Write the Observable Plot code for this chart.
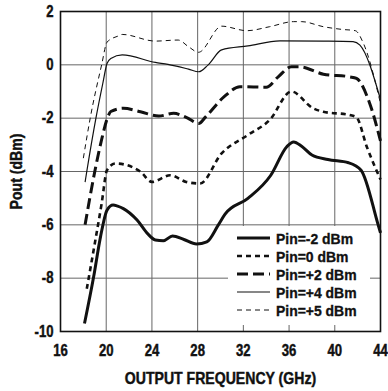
<!DOCTYPE html>
<html>
<head>
<meta charset="utf-8">
<script src="https://cdn.jsdelivr.net/npm/d3@7"></script>
<script src="https://cdn.jsdelivr.net/npm/@observablehq/plot@0.6"></script>
<style>
  html, body { margin: 0; padding: 0; background: #fff; }
  #wrap { position: relative; width: 388px; height: 391px; overflow: hidden; }
  #legend { position: absolute; left: 228px; top: 226px; }
</style>
</head>
<body>
<div id="wrap"></div>
<script>
// ---- data ----
const seriesNames = ["Pin=-2 dBm", "Pin=0 dBm", "Pin=+2 dBm", "Pin=+4 dBm", "Pin=+5 dBm"];
const xTicks = [16, 20, 24, 28, 32, 36, 40, 44];
const yTicks = [-10, -8, -6, -4, -2, 0, 2];

const freqM2 = [18.1, 18.9, 19.5, 20.07, 20.6, 21.0, 21.5, 22.7, 23.6, 24.3, 25.0, 25.8, 26.8, 27.9, 28.8, 29.8, 30.4, 32.4, 34.4, 35.8, 36.4, 37.1, 38.0, 39.4, 41.2, 42.3, 43.8, 44.0];
const poutM2 = [-9.7, -7.95, -6.45, -5.45, -5.26, -5.3, -5.39, -5.82, -6.32, -6.57, -6.6, -6.42, -6.55, -6.72, -6.64, -6.01, -5.6, -5.01, -4.14, -3.07, -2.89, -3.05, -3.38, -3.55, -3.67, -3.95, -6.01, -6.3];

const freq0 = [18.3, 19.0, 19.6, 20.07, 20.8, 21.8, 23.0, 24.0, 25.6, 27.0, 28.2, 30.1, 32.4, 34.3, 36.2, 38.1, 39.0, 41.3, 41.9, 42.8, 44.0];
const pout0 = [-8.4, -6.7, -5.2, -3.95, -3.7, -3.76, -4.01, -4.39, -4.14, -4.39, -4.45, -3.32, -2.63, -2.07, -1.0, -1.63, -1.76, -1.88, -1.97, -3.07, -4.3];

const freqP2 = [18.15, 19.0, 19.6, 20.1, 20.4, 21.5, 23.0, 24.6, 25.9, 27.0, 28.1, 28.7, 30.3, 31.7, 34.0, 35.05, 36.2, 36.9, 39.0, 41.3, 41.9, 43.05, 44.0];
const poutP2 = [-6.0, -4.0, -2.8, -2.0, -1.75, -1.63, -1.76, -1.92, -1.82, -1.97, -2.2, -1.95, -1.2, -0.82, -0.84, -0.45, -0.07, -0.07, -0.35, -0.45, -0.51, -1.44, -2.85];

const freqP4 = [18.15, 18.3, 19.1, 19.7, 20.07, 20.4, 21.4, 24.3, 25.4, 27.2, 28.1, 28.9, 30.1, 32.4, 35.2, 39.0, 41.6, 42.2, 44.0];
const poutP4 = [-4.4, -4.0, -2.0, -0.7, 0.05, 0.24, 0.37, 0.09, 0.02, -0.16, -0.26, -0.01, 0.56, 0.71, 0.9, 0.89, 0.87, 0.74, -1.3];

const freqP5 = [18.0, 18.6, 19.6, 20.07, 21.1, 21.4, 24.3, 26.3, 27.2, 28.07, 30.1, 32.3, 34.3, 36.4, 37.1, 39.0, 40.6, 41.8, 42.5, 44.0];
const poutP5 = [-3.5, -2.0, 0.0, 0.85, 1.09, 1.14, 0.89, 0.93, 0.68, 0.47, 1.45, 1.28, 1.43, 1.62, 1.62, 1.43, 1.33, 1.28, 0.81, -1.45];

// ---- styles ----
const styles = [
  {width: 3, dash: null},
  {width: 2.6, dash: "5,4"},
  {width: 3, dash: "11,5"},
  {width: 1.2, dash: null},
  {width: 1, dash: "5,4"}
];

const freqs = [freqM2, freq0, freqP2, freqP4, freqP5];
const pouts = [poutM2, pout0, poutP2, poutP4, poutP5];
const rows = seriesNames.map((name, i) => freqs[i].map((f, j) => ({f, p: pouts[i][j], s: name})));

const font = '"Liberation Sans", Arial, Helvetica, sans-serif';
const ink = "#111";

const chart = Plot.plot({
  width: 388,
  height: 391,
  marginLeft: 60,
  marginRight: 8,
  marginTop: 11,
  marginBottom: 60,
  style: {fontFamily: font, fontSize: "16px", fontWeight: "bold", color: ink, background: "#fff"},
  x: {domain: [16, 44]},
  y: {domain: [-10, 2]},
  marks: [
    Plot.gridX(xTicks, {stroke: "#666", strokeOpacity: 1, strokeWidth: 1}),
    Plot.gridY(yTicks, {stroke: "#666", strokeOpacity: 1, strokeWidth: 1}),
    ...rows.map((r, i) => Plot.line(r, {
      x: "f", y: "p", curve: "monotone-x",
      stroke: ink, strokeWidth: styles[i].width,
      strokeDasharray: styles[i].dash || undefined,
      strokeLinecap: "butt"
    })),
    Plot.frame({stroke: ink, strokeWidth: 1.6}),
    Plot.axisX({ticks: xTicks, tickSize: 0, tickPadding: 13, tickFormat: d => String(d), label: "OUTPUT FREQUENCY (GHz)", labelAnchor: "center", labelArrow: "none", labelOffset: 52, fontSize: 16}),
    Plot.axisY({ticks: yTicks, tickSize: 0, tickPadding: 7, tickFormat: d => String(d), label: "Pout (dBm)", labelAnchor: "center", labelArrow: "none", labelOffset: 50, fontSize: 16})
  ]
});

const wrap = document.getElementById("wrap");
wrap.appendChild(chart);

// emulate a heavy condensed face: squeeze each text horizontally about a pivot, and thicken it slightly
function squeeze(sel, s, pivot) {
  chart.querySelectorAll(sel).forEach(t => {
    let b;
    try { b = t.getBBox(); } catch (e) { return; }
    const px = pivot === "end" ? b.x + b.width : b.x + b.width / 2;
    const old = t.getAttribute("transform") || "";
    t.setAttribute("transform", `${old} translate(${px},0) scale(${s},1) translate(${-px},0)`);
    t.setAttribute("stroke", ink);
    t.setAttribute("stroke-width", 0.45);
  });
}
squeeze('g[aria-label="x-axis tick label"] text', 0.82, "middle");
squeeze('g[aria-label="y-axis tick label"] text', 0.82, "end");
squeeze('g[aria-label$="axis label"] text', 0.88, "middle");

// ---- legend overlay ----
const ns = "http://www.w3.org/2000/svg";
const lg = document.createElementNS(ns, "svg");
lg.setAttribute("id", "legend");
lg.setAttribute("width", 142);
lg.setAttribute("height", 99);
const bg = document.createElementNS(ns, "rect");
bg.setAttribute("width", 142);
bg.setAttribute("height", 99);
bg.setAttribute("fill", "#fff");
lg.appendChild(bg);
seriesNames.forEach((name, i) => {
  const y = 12 + i * 18;
  const ln = document.createElementNS(ns, "line");
  ln.setAttribute("x1", 9);
  ln.setAttribute("x2", 42);
  ln.setAttribute("y1", y);
  ln.setAttribute("y2", y);
  ln.setAttribute("stroke", ink);
  ln.setAttribute("stroke-width", styles[i].width);
  if (styles[i].dash) ln.setAttribute("stroke-dasharray", styles[i].dash);
  lg.appendChild(ln);
  const t = document.createElementNS(ns, "text");
  t.setAttribute("transform", `translate(48,${y}) scale(0.9,1)`);
  t.setAttribute("dy", "0.36em");
  t.setAttribute("font-size", 15.5);
  t.setAttribute("fill", ink);
  t.setAttribute("stroke", ink);
  t.setAttribute("stroke-width", 0.35);
  t.setAttribute("font-family", font);
  t.setAttribute("font-weight", "bold");
  t.textContent = name;
  lg.appendChild(t);
});
wrap.appendChild(lg);
</script>
</body>
</html>
